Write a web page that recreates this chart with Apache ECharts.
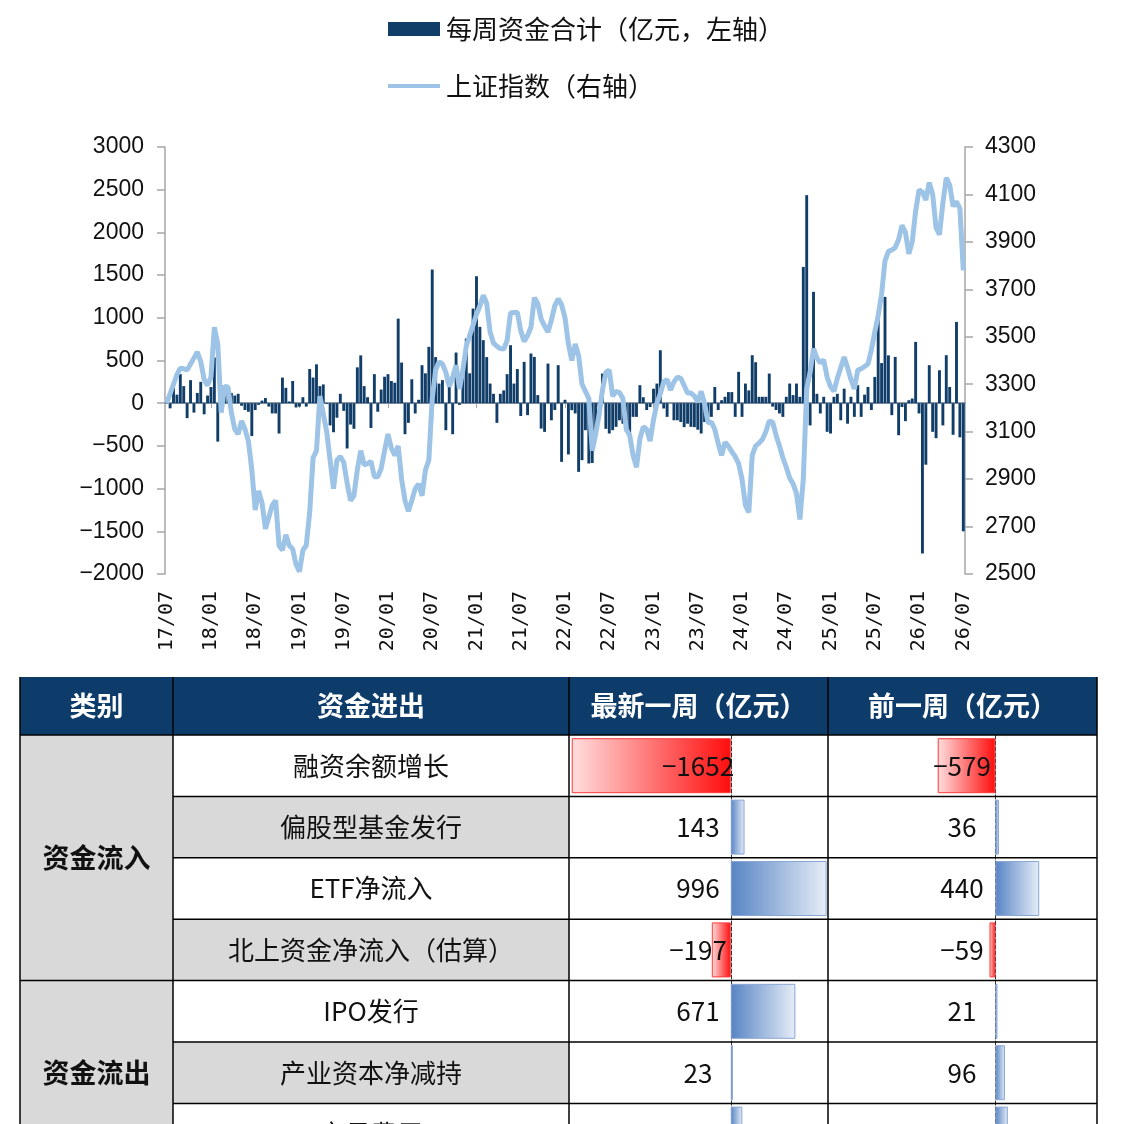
<!DOCTYPE html>
<html lang="zh-CN">
<head>
<meta charset="UTF-8">
<title>每周资金合计与上证指数</title>
<script src="https://cdn.jsdelivr.net/npm/echarts@6/dist/echarts.min.js"></script>
<style>
  html, body { margin: 0; padding: 0; background: #fff; }
  #main { width: 1125px; height: 1124px; }
</style>
</head>
<body>
<div id="main"></div>
<script>
// 每两周取一个点，2017/07 起
var fundFlow = [
  20, -60, 210, 100, 340, 200, -175, 270, -110, 120,
  250, -130, 90, 190, 535, -450, 210, 80, 150, 120,
  90, 110, -30, -80, -100, -385, -80, -20, 30, 60,
  -40, -120, -120, -355, 300, 180, 20, 260, -50, -40,
  70, -40, 400, 300, 455, 200, 220, -10, -260, -340,
  -170, 110, -90, -530, -250, -300, 420, 560, 200, 70,
  -290, 340, -100, 160, 310, 340, 260, 240, 990, 476,
  -363, -230, 280, -120, 40, 445, 350, 660, 1565, 540,
  230, 270, -316, 290, -363, 593, -20, 445, 757, 350,
  1108, 1487, 894, 738, 540, 230, 110, -230, 110, 150,
  340, 679, 230, 400, -150, 484, -140, 582, 542, 95,
  -297, -336, 464, -200, -80, 445, -687, 40, -600, -82,
  -120, -804, -667, -316, -706, -700, -316, -40, 347, -300,
  -355, -316, -277, -200, -240, -335, -390, -160, -160, 211,
  70, -80, -45, 170, 230, 620, -62, -160, 0, -200,
  -200, -220, -280, -240, -277, -280, -310, -355, -220, -160,
  -160, 190, -80, 35, 75, 130, 130, -160, 367, -160,
  230, 150, 562, 480, 75, 75, 75, 347, -40, -80,
  -120, -160, 75, 230, 95, 230, 75, 1596, 2436, -260,
  1304, 110, -120, 75, -335, -355, 75, 110, -200, 170,
  -240, 75, -160, 211, -160, 100, 190, -80, 308, 1050,
  470, 1245, 560, -140, 542, -375, -45, -210, 35, 55,
  718, -120, -1760, -720, 445, -335, -410, 386, -260, 562,
  190, -370, 952, -400, -1500
];

var sseIndex = [
  3220, 3260, 3300, 3340, 3368, 3365, 3360, 3385, 3410, 3436,
  3395, 3320, 3295, 3330, 3540, 3470, 3180, 3290, 3288, 3180,
  3110, 3090, 3145, 3110, 3060, 2940, 2770, 2850, 2800, 2690,
  2740, 2790, 2810, 2620, 2600, 2665, 2620, 2605, 2540, 2510,
  2600, 2620, 2760, 2990, 3020, 3250, 3175, 3100, 2980, 2860,
  2980, 2995, 2970, 2884, 2810, 2830, 2940, 3020, 2960, 2965,
  2975, 2910, 2910, 2945, 3020, 3090, 3030, 3000, 3040, 2900,
  2810, 2765, 2810, 2860, 2880, 2830, 2938, 2980, 3240, 3360,
  3395, 3385, 3350, 3290, 3330, 3380, 3280, 3360, 3460, 3505,
  3550, 3595, 3630, 3675, 3640, 3520, 3473, 3460, 3450, 3448,
  3485, 3600, 3602, 3604, 3525, 3480, 3505, 3540, 3665, 3640,
  3575, 3545, 3520, 3570, 3630, 3660, 3635, 3580, 3470, 3400,
  3470, 3420, 3300, 3270, 3240, 3020, 3090, 3170, 3275, 3350,
  3360, 3250, 3270, 3265, 3240, 3110, 3085, 3000, 2950, 3070,
  3120, 3110, 3060, 3150, 3220, 3260, 3310, 3320, 3275, 3310,
  3330, 3325, 3295, 3263, 3263, 3250, 3225, 3270, 3220, 3137,
  3140, 3110, 3050, 3000, 3055, 3040, 3015, 2995, 2965, 2900,
  2790, 2760, 3000, 3040, 3052, 3068, 3100, 3145, 3140, 3085,
  3040, 2990, 2950, 2905, 2880, 2840, 2730, 2900, 3280, 3350,
  3450, 3410, 3390, 3402, 3330, 3290, 3270, 3325, 3370, 3415,
  3370, 3320, 3280, 3360, 3365, 3375, 3385, 3445, 3520, 3590,
  3680, 3820, 3860, 3866, 3876, 3910, 3970, 3940, 3850, 3900,
  4030, 4119, 4110, 4077, 4150, 4100, 3960, 3930, 4064, 4170,
  4140, 4050, 4070, 4040, 3780
];

var tickLabels = ['17/07','18/01','18/07','19/01','19/07','20/01','20/07','21/01','21/07','22/01',
                  '22/07','23/01','23/07','24/01','24/07','25/01','25/07','26/01','26/07'];

var legendNames = ['每周资金合计（亿元，左轴）', '上证指数（右轴）'];

var tableHeaders = ['类别', '资金进出', '最新一周（亿元）', '前一周（亿元）'];
var groupNames = ['资金流入', '资金流出'];
var groupRows = [[0, 4], [4, 7]];   // 每组的起止行
var flowNames = ['融资余额增长', '偏股型基金发行', 'ETF净流入', '北上资金净流入（估算）', 'IPO发行', '产业资本净减持', '交易费用'];
var latestWeek = [-1652, 143, 996, -197, 671, 23, 120];
var prevWeek = [-579, 36, 440, -59, 21, 96, 125];

// 类目：每个点一个序号，刻度标签取 tickLabels
var categories = fundFlow.map(function (v, i) { return 'p' + i; });
function tickText(value, index) {
  return index % 13 === 0 ? tickLabels[index / 13] : '';
}
function minus(v) { return String(v).replace('-', '\u2212'); }

var cjk = '"Noto Sans CJK SC", "Noto Sans", sans-serif';
var navy = '#113d69';
var lightBlue = '#9dc3e6';

// ---- 表格外框 ----
var cols = [20, 173, 569, 828, 1097];
var headTop = 677, headBottom = 735, rowH = 61.4;
var tableBottom = headBottom + flowNames.length * rowH;
var g = [];

g.push({ type: 'rect', z: 0, shape: { x: cols[0], y: headTop, width: cols[4] - cols[0], height: headBottom - headTop }, style: { fill: '#0e3c6a' } });
g.push({ type: 'rect', z: 0, shape: { x: cols[0], y: headBottom, width: cols[1] - cols[0], height: tableBottom - headBottom }, style: { fill: '#d9d9d9' } });
flowNames.forEach(function (name, k) {
  var yTop = headBottom + k * rowH;
  if (k % 2 === 1) {
    g.push({ type: 'rect', z: 0, shape: { x: cols[1], y: yTop, width: cols[2] - cols[1], height: rowH }, style: { fill: '#d9d9d9' } });
  }
  g.push({ type: 'text', z: 20, x: (cols[1] + cols[2]) / 2, y: yTop + rowH / 2,
    style: { text: name, fill: '#111', fontSize: 26, fontFamily: cjk, align: 'center', verticalAlign: 'middle' } });
  g.push({ type: 'text', z: 20, x: 698, y: yTop + rowH / 2,
    style: { text: minus(latestWeek[k]), fill: '#111', fontSize: 26, fontFamily: cjk, align: 'center', verticalAlign: 'middle' } });
  g.push({ type: 'text', z: 20, x: 962, y: yTop + rowH / 2,
    style: { text: minus(prevWeek[k]), fill: '#111', fontSize: 26, fontFamily: cjk, align: 'center', verticalAlign: 'middle' } });
  if (k > 0) {
    var x0 = (k === groupRows[1][0]) ? cols[0] : cols[1];
    g.push({ type: 'line', z: 15, shape: { x1: x0, y1: yTop, x2: cols[4], y2: yTop }, style: { stroke: '#000', lineWidth: 1.5 } });
  }
});
groupNames.forEach(function (name, k) {
  var mid = headBottom + (groupRows[k][0] + groupRows[k][1]) / 2 * rowH;
  g.push({ type: 'text', z: 20, x: (cols[0] + cols[1]) / 2, y: mid,
    style: { text: name, fill: '#111', fontSize: 27, fontWeight: 'bold', fontFamily: cjk, align: 'center', verticalAlign: 'middle' } });
});
tableHeaders.forEach(function (t, k) {
  g.push({ type: 'text', z: 20, x: (cols[k] + cols[k + 1]) / 2, y: (headTop + headBottom) / 2,
    style: { text: t, fill: '#fff', fontSize: 27, fontWeight: 'bold', fontFamily: cjk, align: 'center', verticalAlign: 'middle' } });
});
cols.forEach(function (c) {
  g.push({ type: 'line', z: 15, shape: { x1: c, y1: headTop, x2: c, y2: tableBottom }, style: { stroke: '#000', lineWidth: 1.5 } });
});
g.push({ type: 'line', z: 15, shape: { x1: cols[0], y1: headBottom, x2: cols[4], y2: headBottom }, style: { stroke: '#000', lineWidth: 1.5 } });

// 数据条样式
function barItem(v) {
  if (v < 0) {
    return { value: v, itemStyle: {
      color: { type: 'linear', x: 0, y: 0, x2: 1, y2: 0, colorStops: [{ offset: 0, color: '#ffdede' }, { offset: 1, color: '#ff0d0d' }] },
      borderColor: '#ff3b3b', borderWidth: 1 } };
  }
  return { value: v, itemStyle: {
    color: { type: 'linear', x: 0, y: 0, x2: 1, y2: 0, colorStops: [{ offset: 0, color: '#5784c4' }, { offset: 1, color: '#e6edf7' }] },
    borderColor: '#8aa6d6', borderWidth: 1 } };
}

var myChart = echarts.init(document.getElementById('main'));

var axisGray = '#a6a6a6';
var option = {
  animation: false,
  backgroundColor: '#fff',
  legend: [
    { data: [legendNames[0]], left: 383, top: 11, icon: 'rect', itemWidth: 52, itemHeight: 14, itemGap: 0,
      textStyle: { fontSize: 26, color: '#111', fontFamily: cjk, padding: [0, 0, 0, 1] } },
    { data: [legendNames[1]], left: 383, top: 68, icon: 'rect', itemWidth: 52, itemHeight: 4, itemGap: 0,
      textStyle: { fontSize: 26, color: '#111', fontFamily: cjk, padding: [0, 0, 0, 1] } }
  ],
  grid: [
    { left: 165, top: 147, width: 800, height: 427, outerBoundsMode: 'none' },
    { left: 570, top: headBottom, width: 258, height: flowNames.length * rowH, outerBoundsMode: 'none' },
    { left: 829, top: headBottom, width: 267, height: flowNames.length * rowH, outerBoundsMode: 'none' }
  ],
  xAxis: [
    { type: 'category', gridIndex: 0, data: categories, position: 'bottom',
      axisLine: { show: false, onZero: false }, axisTick: { show: false },
      axisLabel: { interval: 12, rotate: 90, margin: 17, fontSize: 20, color: '#111',
        fontFamily: '"DejaVu Sans Mono", monospace', formatter: tickText } },
    { type: 'category', gridIndex: 0, data: categories, position: 'bottom',
      axisLine: { show: true, onZero: true, onZeroAxisIndex: 0, lineStyle: { color: '#8c99a8', width: 2 } },
      axisTick: { show: true, alignWithLabel: true, length: 5, lineStyle: { color: axisGray },
        interval: function (i) { return i % 26 === 13; } },
      axisLabel: { show: false } },
    { type: 'value', gridIndex: 1, min: -1670, max: 1010, show: false },
    { type: 'value', gridIndex: 2, min: -1670, max: 1010, show: false }
  ],
  yAxis: [
    { type: 'value', gridIndex: 0, min: -2000, max: 3000, interval: 500, position: 'left',
      axisLine: { show: true, onZero: false, lineStyle: { color: axisGray, width: 1.5 } },
      axisTick: { show: true, length: 8, lineStyle: { color: axisGray, width: 1.5 } },
      splitLine: { show: false },
      axisLabel: { fontSize: 23, color: '#111', margin: 21, fontFamily: '"Liberation Sans", Arial, sans-serif', formatter: minus } },
    { type: 'value', gridIndex: 0, min: 2500, max: 4300, interval: 200, position: 'right',
      axisLine: { show: true, onZero: false, lineStyle: { color: axisGray, width: 1.5 } },
      axisTick: { show: true, length: 8, lineStyle: { color: axisGray, width: 1.5 } },
      splitLine: { show: false },
      axisLabel: { fontSize: 23, color: '#111', margin: 20, fontFamily: '"Liberation Sans", Arial, sans-serif',
        formatter: function (v) { return String(v); } } },
    { type: 'category', gridIndex: 1, data: flowNames, inverse: true,
      axisLine: { show: true, onZero: true, lineStyle: { color: '#333', type: 'dashed', width: 1 } },
      axisTick: { show: false }, axisLabel: { show: false }, splitLine: { show: false } },
    { type: 'category', gridIndex: 2, data: flowNames, inverse: true,
      axisLine: { show: true, onZero: true, lineStyle: { color: '#333', type: 'dashed', width: 1 } },
      axisTick: { show: false }, axisLabel: { show: false }, splitLine: { show: false } }
  ],
  series: [
    { name: legendNames[0], type: 'bar', xAxisIndex: 0, yAxisIndex: 0, data: fundFlow,
      barWidth: '85%', itemStyle: { color: navy } },
    { name: legendNames[1], type: 'line', xAxisIndex: 0, yAxisIndex: 1, data: sseIndex,
      symbol: 'none', lineStyle: { color: lightBlue, width: 5 }, itemStyle: { color: lightBlue } },
    { type: 'bar', xAxisIndex: 2, yAxisIndex: 2, barWidth: 55, data: latestWeek.map(barItem) },
    { type: 'bar', xAxisIndex: 3, yAxisIndex: 3, barWidth: 55, data: prevWeek.map(barItem) }
  ],
  graphic: { elements: g }
};

myChart.setOption(option);
</script>
</body>
</html>
